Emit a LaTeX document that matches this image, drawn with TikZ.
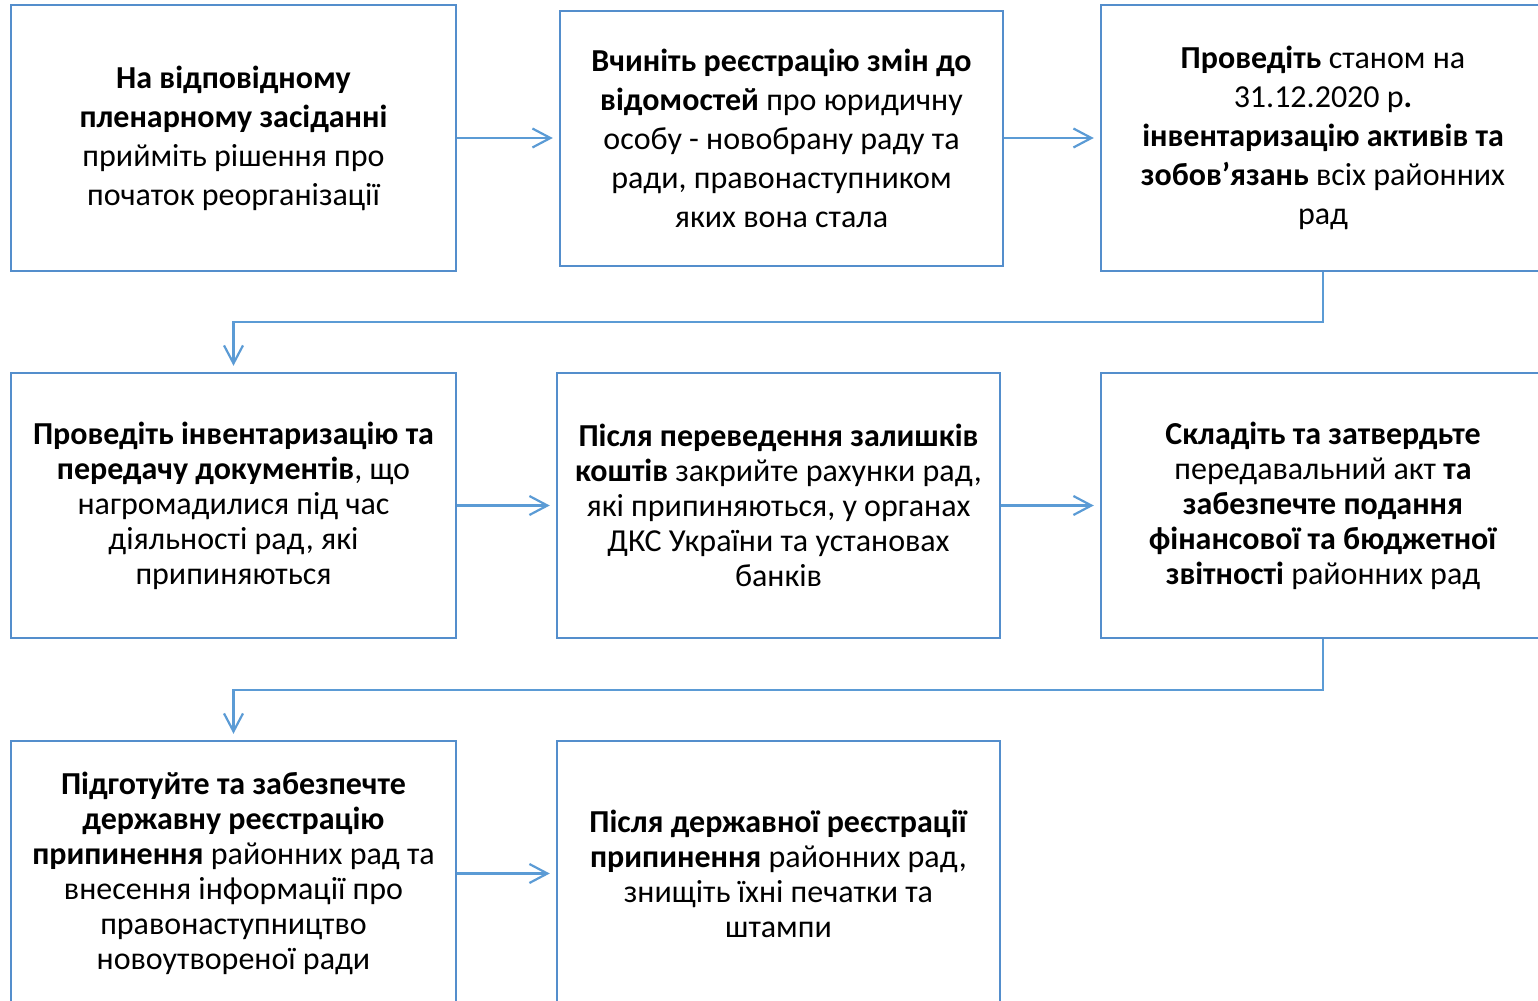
\documentclass[tikz,border=0pt]{standalone}
\usepackage{fontspec}
\setmainfont{Carlito}
\usetikzlibrary{arrows.meta}
\definecolor{boxblue}{RGB}{84,142,204}
\definecolor{arrblue}{RGB}{91,155,213}
\begin{document}
\begin{tikzpicture}[x=0.5pt,y=-0.5pt,
  box/.style={draw=boxblue, line width=1.25pt, rectangle, inner sep=0pt, align=center, text=black},
  rowa/.style={font=\fontsize{16pt}{19.5pt}\selectfont},
  rowb/.style={font=\fontsize{16pt}{17.5pt}\selectfont},
  link/.style={draw=arrblue, line width=1.1pt, -{Straight Barb[length=9pt,width=9.5pt,line width=1.1pt]}, shorten >=3pt}
]
\useasboundingbox (0,0) rectangle (1538,1001);
% row 1
\node[box,rowa,minimum width=222.5pt,minimum height=133pt] (b1) at (233.5,138)
  {\textbf{На відповідному}\\\textbf{пленарному засіданні}\\прийміть рішення про\\початок реорганізації};
\node[box,rowa,minimum width=221.5pt,minimum height=127.5pt] (b2) at (781.5,138.5)
  {\textbf{Вчиніть реєстрацію змін до}\\\textbf{відомостей} про юридичну\\особу - новобрану раду та\\ради, правонаступником\\яких вона стала};
\node[box,rowa,minimum width=222pt,minimum height=133pt] (b3) at (1323,138)
  {\textbf{Проведіть} станом на\\31.12.2020 р\textbf{.}\\\textbf{інвентаризацію активів та}\\\textbf{зобов’язань} всіх районних\\рад};
% row 2
\node[box,rowb,minimum width=222.5pt,minimum height=132.5pt] (b4) at (233.5,505.5)
  {\textbf{Проведіть інвентаризацію та}\\\textbf{передачу документів}, що\\нагромадилися під час\\діяльності рад, які\\припиняються};
\node[box,rowb,minimum width=221.5pt,minimum height=132.5pt] (b5) at (778.5,505.5)
  {\textbf{Після переведення залишків}\\\textbf{коштів} закрийте рахунки рад,\\які припиняються, у органах\\ДКС України та установах\\банків};
\node[box,rowb,minimum width=222pt,minimum height=132.5pt] (b6) at (1323,505.5)
  {\textbf{Складіть та затвердьте}\\передавальний акт \textbf{та}\\\textbf{забезпечте подання}\\\textbf{фінансової та бюджетної}\\\textbf{звітності} районних рад};
% row 3
\node[box,rowb,minimum width=222.5pt,minimum height=132.5pt] (b7) at (233.5,873.5)
  {\textbf{Підготуйте та забезпечте}\\\textbf{державну реєстрацію}\\\textbf{припинення} районних рад та\\внесення інформації про\\правонаступництво\\новоутвореної ради};
\node[box,rowb,minimum width=221.5pt,minimum height=132.5pt] (b8) at (778.5,873.5)
  {\textbf{Після державної реєстрації}\\\textbf{припинення} районних рад,\\знищіть їхні печатки та\\штампи};
% connectors
\coordinate (t1) at (1323,322);
\coordinate (t2) at (233.5,322);
\coordinate (u1) at (1323,690);
\coordinate (u2) at (233.5,690);
\draw[link] (b1.east) -- (b1.east -| b2.west);
\draw[link] (b2.east |- b1.east) -- (b1.east -| b3.west);
\draw[link] (b3.south) -- (t1) -- (t2) -- (b4.north);
\draw[link] (b4.east) -- (b5.west);
\draw[link] (b5.east) -- (b6.west);
\draw[link] (b6.south) -- (u1) -- (u2) -- (b7.north);
\draw[link] (b7.east) -- (b7.east -| b8.west);
\end{tikzpicture}
\end{document}
